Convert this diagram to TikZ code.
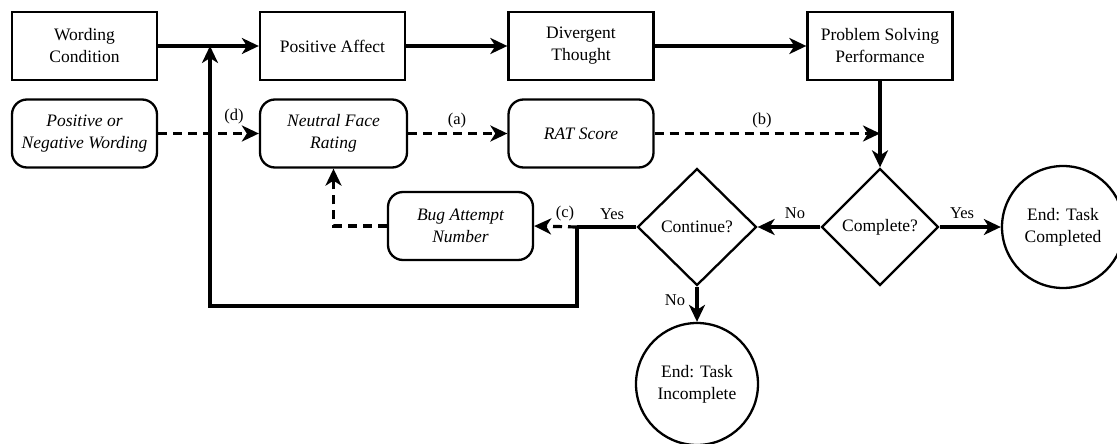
\documentclass[tikz,border=0pt]{standalone}
\usepackage{fontspec}
\setmainfont{Liberation Serif}
\usetikzlibrary{shapes.geometric,arrows.meta,calc}

\tikzset{
  every node/.style={font=\fontsize{17.5}{22}\selectfont, align=center, inner sep=0pt},
  box/.style={draw, line width=2.3pt, rectangle, minimum width=145pt, minimum height=68pt},
  rbox/.style={box, rounded corners=15pt, font=\fontsize{17.5}{22}\selectfont\itshape},
  decision/.style={draw, line width=2.3pt, diamond, aspect=1},
  endcircle/.style={draw, line width=2.3pt, circle, minimum size=122pt},
  flow/.style={line width=3.2pt, -{Stealth[length=17pt, width=16pt, inset=5pt]}},
  link/.style={line width=3.2pt},
  dashflow/.style={line width=3.2pt, dash pattern=on 9pt off 6pt, -{Stealth[length=17pt, width=16pt, inset=5pt]}},
  lbl/.style={font=\fontsize{16.5}{20}\selectfont}
}

\begin{document}
\begin{tikzpicture}[x=1pt, y=-1pt]
  \useasboundingbox (0,0) rectangle (1117,444);

  % top row: causal chain
  \node[box] (wc)  at (84.5,46)  {Wording\\Condition};
  \node[box] (pa)  at (332.5,46) {Positive Affect};
  \node[box] (dt)  at (581,46)   {Divergent\\Thought};
  \node[box] (psp) at (880,46)   {Problem Solving\\Performance};

  % second row: measured variables
  \node[rbox] (pnw) at (84.5,133.5) {Positive or\\Negative Wording};
  \node[rbox, minimum width=147pt] (nfr) at (333.5,133.5) {Neutral Face\\Rating};
  \node[rbox] (rat) at (581,133.5) {RAT Score};
  \node[rbox] (bug) at (460.5,226) {Bug Attempt\\Number};

  % decisions and end states
  \node[decision, minimum width=117pt, minimum height=117pt] (comp) at (880,227) {Complete?};
  \node[decision, minimum width=119pt, minimum height=117pt] (cont) at (697,227) {Continue?};
  \node[endcircle] (endc) at (1063,227) {End: Task\\Completed};
  \node[endcircle] (endi) at (697,384) {End: Task\\Incomplete};

  \coordinate (split) at (577,227);
  \coordinate (loopbot) at (210,306);
  \coordinate (loopin) at (210,46);

  % solid flow
  \draw[flow] (wc.east) -- (pa.west);
  \draw[flow] (pa.east) -- (dt.west);
  \draw[flow] (dt.east) -- (psp.west);
  \draw[flow] (psp.south) -- (comp.north);
  \draw[flow] (comp.west) -- (cont.east);
  \draw[flow] (comp.east) -- (endc.west);
  \draw[flow] (cont.south) -- (endi.north);
  \draw[link] (cont.west) -- (split);
  \draw[flow] (split) |- (loopbot) -- (loopin);

  % dashed measurement links
  \draw[dashflow] (pnw.east) -- (nfr.west);
  \draw[dashflow] (nfr.east) -- (rat.west);
  \draw[dashflow] (rat.east) -- (psp.south |- rat.east);
  \draw[dashflow] (split) -- (bug.east);
  \draw[dashflow] (bug.west) -| (nfr.south);

  % labels
  \node[lbl] (la) at (457,121) {(a)};
  \node[lbl] (lb) at (762,121) {(b)};
  \node[lbl] (lc) at (565,214) {(c)};
  \node[lbl] (ld) at (234,117) {(d)};
  \node[lbl] (ly1) at (612,214) {Yes};
  \node[lbl] (ln1) at (795,213) {No};
  \node[lbl] (ly2) at (962,213) {Yes};
  \node[lbl] (ln2) at (675,300) {No};
\end{tikzpicture}
\end{document}
